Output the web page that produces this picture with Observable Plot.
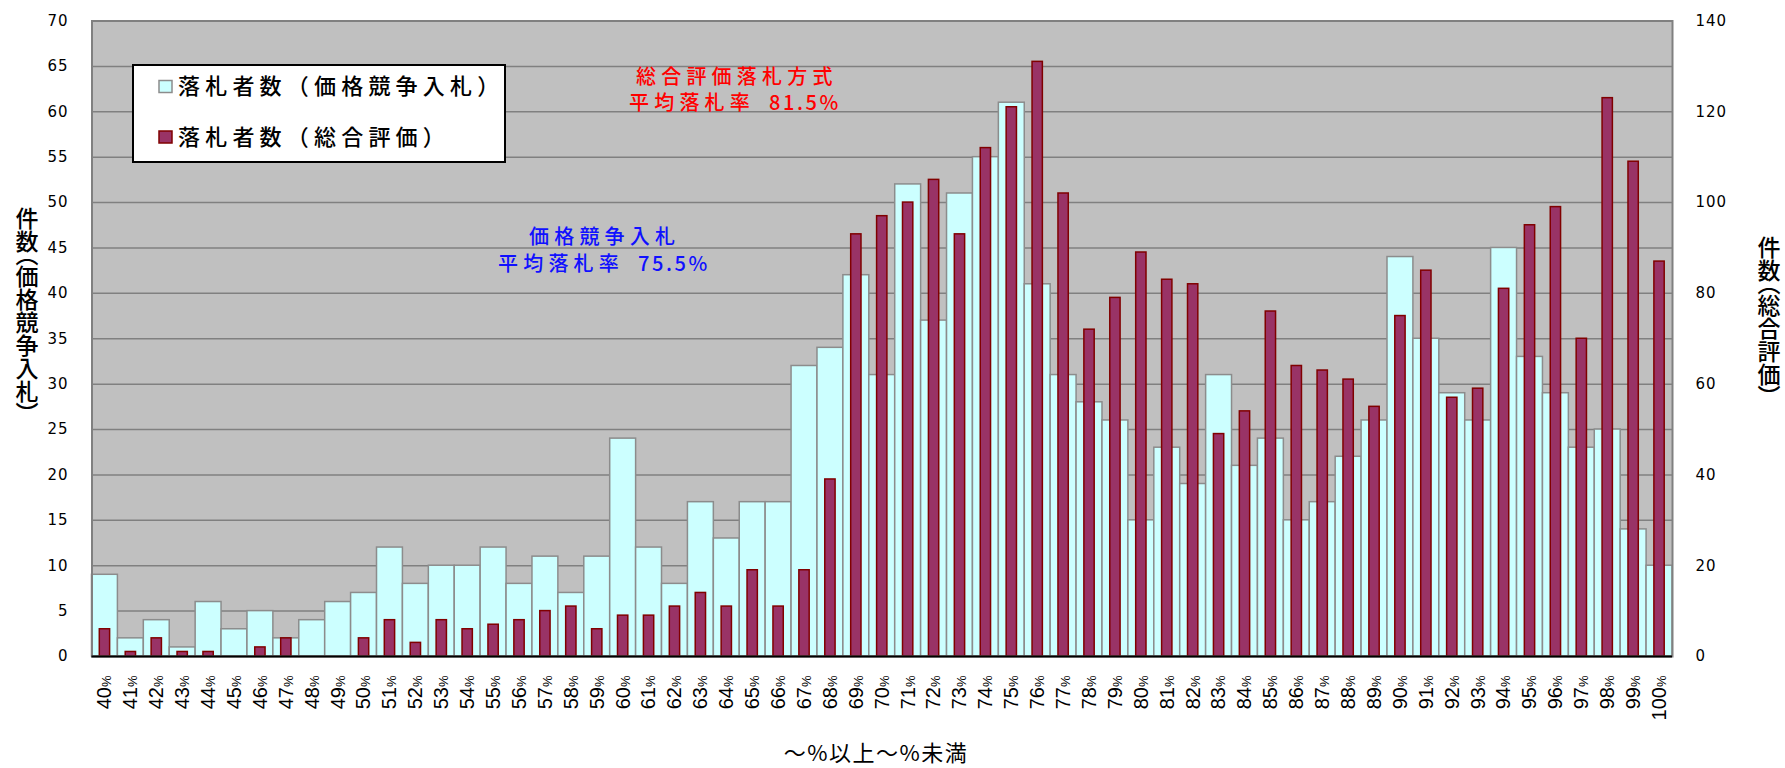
<!DOCTYPE html>
<html><head><meta charset="utf-8">
<script src="https://cdn.jsdelivr.net/npm/d3@7"></script>
<script src="https://cdn.jsdelivr.net/npm/@observablehq/plot@0.6"></script>
<style>
html,body{margin:0;padding:0;background:#fff;}
#chart{width:1785px;height:768px;position:relative;}
</style></head><body><div id="chart"></div>
<script>
// ---- data ----
const categories = ["40%","41%","42%","43%","44%","45%","46%","47%","48%","49%",
  "50%","51%","52%","53%","54%","55%","56%","57%","58%","59%",
  "60%","61%","62%","63%","64%","65%","66%","67%","68%","69%",
  "70%","71%","72%","73%","74%","75%","76%","77%","78%","79%",
  "80%","81%","82%","83%","84%","85%","86%","87%","88%","89%",
  "90%","91%","92%","93%","94%","95%","96%","97%","98%","99%","100%"];
// 落札者数（価格競争入札） left axis
const kakakuCounts = [9,2,4,1,6,3,5,2,4,6,
  7,12,8,10,10,12,8,11,7,11,
  24,12,8,17,13,17,17,32,34,42,
  31,52,37,51,55,61,41,31,28,26,
  15,23,19,31,21,24,15,17,22,26,
  44,35,29,26,45,33,29,23,25,14,10];
// 落札者数（総合評価） right axis
const sogoCounts = [6,1,4,1,1,0,2,4,0,0,
  4,8,3,8,6,7,8,10,11,6,
  9,9,11,14,11,19,11,19,39,93,
  97,100,105,93,112,121,131,102,72,79,
  89,83,82,49,54,76,64,63,61,55,
  75,85,57,59,81,95,99,70,123,109,87];
const leftTicks = [0,5,10,15,20,25,30,35,40,45,50,55,60,65,70];
const rightTicks = [0,20,40,60,80,100,120,140];
const seriesNames = ["落札者数（価格競争入札）","落札者数（総合評価）"];
const leftTitle = "件数（価格競争入札）";
const rightTitle = "件数（総合評価）";
const xTitle = "～%以上～%未満";
const noteRedTitle = "総合評価落札方式";
const noteBlueTitle = "価格競争入札";
const noteRateLabel = "平均落札率";
const noteRedRate = "81.5%";
const noteBlueRate = "75.5%";

// ---- chart ----
const data = categories.map((c,i)=>({cat:c, kakaku:kakakuCounts[i], sogo:sogoCounts[i]}));
const W=1785,H=768, mL=91.5, mR=113, mT=20.5, mB=112;
const ratio = 140/70; // right axis = 2 x left axis
const lightFill="#CCFFFF", lightStroke="#8C8C8C", darkFill="#993366", darkStroke="#800000";
const jp = "'Noto Sans CJK JP','Noto Sans',sans-serif";

const chart = Plot.plot({
  width:W, height:H, marginLeft:mL, marginRight:mR, marginTop:mT, marginBottom:mB,
  style:{background:"#fff", fontFamily:"DejaVu Sans", color:"#000"},
  x:{type:"band", domain:categories, padding:0},
  y:{domain:[0,70]},
  marks:[
    Plot.frame({fill:"#C0C0C0", stroke:null}),
    Plot.gridY(leftTicks.slice(1), {stroke:"#808080", strokeOpacity:1, strokeWidth:1.5}),
    Plot.barY(data,{x:"cat", y:"kakaku", fill:lightFill, stroke:lightStroke, strokeWidth:1.5}),
    Plot.barY(data.filter(d=>d.sogo>0),{x:"cat", y:d=>d.sogo/ratio, fill:darkFill, stroke:darkStroke, strokeWidth:1.5, insetLeft:7.8, insetRight:7.8}),
    Plot.frame({stroke:"#808080", strokeWidth:2, fill:null}),
    Plot.ruleY([0],{stroke:"#000", strokeWidth:2}),
    Plot.axisY(leftTicks,{anchor:"left", tickSize:0, tickPadding:23.5, fontSize:15, label:null}),
    Plot.axisY(rightTicks.map(v=>v/ratio),{anchor:"right", tickSize:0, tickPadding:23, fontSize:15, tickFormat:d=>String(d*ratio), label:null}),
    Plot.axisX({tickRotate:-90, tickSize:0, tickPadding:19, fontSize:20, fontFamily:"Liberation Sans", textAnchor:"end", label:null})
  ]
});
document.getElementById("chart").appendChild(chart);
const svg = d3.select(chart);

// y tick labels: slightly wider spacing like the reference font
svg.selectAll("g[aria-label='y-axis tick label'] text").attr("letter-spacing",1);

// x tick labels: smaller percent sign
svg.selectAll("g[aria-label='x-axis tick label'] text").each(function(){
  const t = this.textContent;
  if (!t.endsWith("%")) return;
  const el = d3.select(this);
  el.text(null);
  el.append("tspan").text(t.slice(0,-1));
  el.append("tspan").attr("font-size",13).text("%");
});

// ---- vertical axis titles (vertical writing, proportional vertical parentheses) ----
function vtitle(x,y,s,size){
  svg.append("text").attr("x",x).attr("y",y).attr("font-family",jp).attr("font-size",size)
    .attr("font-weight",500).attr("fill","#000").attr("text-anchor","start")
    .style("writing-mode","vertical-rl").style("text-orientation","mixed")
    .style("font-feature-settings","'vpal' 1")
    .text(s);
}
vtitle(27,207,leftTitle,23);
vtitle(1769,236,rightTitle,23);

// x axis title
svg.append("text").attr("x",876).attr("y",761).attr("text-anchor","middle")
  .attr("font-family",jp).attr("font-size",22).attr("letter-spacing",1.5).attr("fill","#000").text(xTitle);

// ---- legend ----
const lg = svg.append("g").attr("text-anchor","start");
lg.append("rect").attr("x",133).attr("y",65).attr("width",372).attr("height",97)
  .attr("fill","#fff").attr("stroke","#000").attr("stroke-width",2);
[[lightFill,lightStroke,86.5],[darkFill,darkStroke,137]].forEach(([f,s,cy],i)=>{
  lg.append("rect").attr("x",159).attr("y",cy-6).attr("width",13).attr("height",12)
    .attr("fill",f).attr("stroke",s).attr("stroke-width",1.5);
  lg.append("text").attr("x",178).attr("y",cy).attr("dy","0.36em").attr("text-anchor","start").attr("font-family",jp)
    .attr("font-size",22).attr("font-weight",500).attr("letter-spacing",5.2).attr("fill","#000").text(seriesNames[i]);
});

// ---- notes ----
function noteText(x,y,t,color,spacing){
  svg.append("text").attr("x",x).attr("y",y).attr("dy","0.36em").attr("text-anchor","start")
    .attr("font-family",jp).attr("font-size",20).attr("font-weight",500).attr("letter-spacing",spacing)
    .attr("fill",color).text(t);
}
const red="#FF0000", blue="#1010FF";
noteText(636,77,noteRedTitle,red,5.2);
noteText(629,103,noteRateLabel,red,5.2);
noteText(769,103,noteRedRate,red,2.6);
noteText(529,237,noteBlueTitle,blue,5.2);
noteText(498,264,noteRateLabel,blue,5.2);
noteText(638,264,noteBlueRate,blue,2.6);
</script></body></html>
